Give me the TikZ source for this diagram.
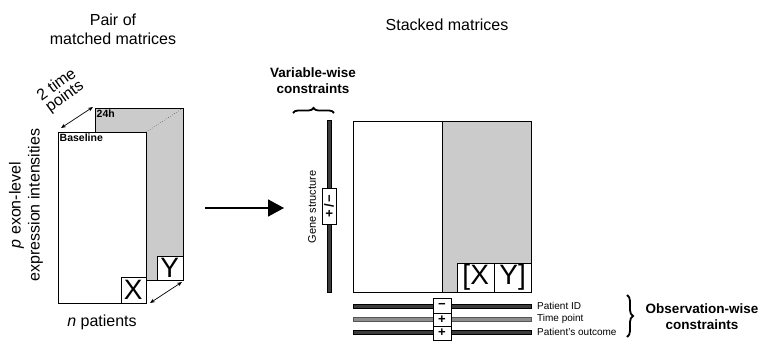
\documentclass[tikz,border=0pt]{standalone}
\usepackage{fontspec}
\setmainfont{Liberation Sans}
\usetikzlibrary{arrows.meta,decorations.pathreplacing}
\definecolor{matgray}{HTML}{CBCBCB}
\definecolor{bardark}{HTML}{3C3C3C}
\definecolor{barlight}{HTML}{8E8E8E}
\begin{document}
\begin{tikzpicture}[x=1pt,y=-1pt,
    big/.style={font=\fontsize{16}{19}\selectfont,align=center,inner sep=0pt},
    bold/.style={font=\fontsize{13.5}{16}\selectfont\bfseries,align=center,inner sep=0pt},
    tag/.style={font=\fontsize{10.5}{12}\selectfont\bfseries,inner sep=1.5pt},
    small/.style={font=\fontsize{10}{12}\selectfont,inner sep=0pt},
    letter/.style={draw,fill=white,font=\fontsize{28}{30}\selectfont,inner sep=0pt},
    sign/.style={draw,fill=white,font=\fontsize{13}{14}\selectfont\bfseries,inner sep=0pt,minimum width=18pt},
    bar/.style={draw=black,fill=bardark,line width=0.6pt},
    twoway/.style={{Stealth[length=5pt,width=4pt]}-{Stealth[length=5pt,width=4pt]},line width=0.7pt}]
                        % \useasboundingbox keeps the 764x343 frame
                        \useasboundingbox (0,0) rectangle (764,343);

                        % pair of matched matrices
                        \node [big] (pairtitle) at (113,29) {Pair of\\matched matrices};
                        \draw [fill=matgray] (95,108) rectangle (183,280);
                        \node [tag,anchor=north west] (late) at (95,108) {24h};
                        \draw [dotted] (146,132)--(183,108);
                        \draw [fill=white] (58,132) rectangle (146,303);
                        \node [tag,anchor=north west] (base) at (58,132) {Baseline};
                        \node [letter,anchor=south east,minimum width=25pt,minimum height=26pt] (xbox) at (146,303) {X};
                        \node [letter,anchor=south east,minimum width=26pt,minimum height=24pt] (ybox) at (183,280) {Y};
                        \coordinate (tpa) at (61,128);
                        \coordinate (tpb) at (93,107);
                        \coordinate (ppa) at (150,303);
                        \coordinate (ppb) at (182,282);
                        \draw [twoway] (tpa)--(tpb);
                        \draw [twoway] (ppa)--(ppb);
                        \node [big,rotate=36] (tlabel) at (56,84) {2 time};
                        \node [big,rotate=36] (tlabelb) at (65,97) {points};
                        \node [big] (nlabel) at (102,322) {\textit{n} patients};
                        \node [big,rotate=90] (plabel) at (26,205) {\textit{p} exon-level\\expression intensities};

                        % arrow between the two halves
                        \coordinate (arra) at (205,208);
                        \coordinate (arrb) at (284,208);
                        \draw [-{Triangle[length=16pt,width=17pt]},line width=1.6pt] (arra)--(arrb);

                        % stacked matrices
                        \node [big] (stacktitle) at (447,25) {Stacked matrices};
                        \draw [fill=white] (353,121) rectangle (442,292);
                        \draw [fill=matgray] (442,121) rectangle (531,292);
                        \node [letter,anchor=south west,minimum width=37pt,minimum height=29pt] (xcell) at (457,292) {[X};
                        \node [letter,anchor=south west,minimum width=37pt,minimum height=29pt] (ycell) at (494,292) {Y]};

                        % variable-wise constraints
                        \node [bold] (varlabel) at (313,81) {Variable-wise\\constraints};
                        \draw [decorate,decoration={brace,amplitude=5pt},line width=1.8pt] (293,113)--(334,113);
                        \draw [bar] (327,120) rectangle (331,292);
                        \node [sign,rotate=90,minimum width=36pt,minimum height=14pt] (gsign) at (329,206) {+\,/\,\textminus};
                        \node [small,rotate=90,font=\fontsize{11}{12}\selectfont] (gene) at (312,207) {Gene structure};

                        % observation-wise constraints
                        \draw [bar] (353,304) rectangle (531,308);
                        \draw [bar,draw=barlight!60!black,fill=barlight] (353,317) rectangle (531,321);
                        \draw [bar] (353,330) rectangle (531,334);
                        \node [sign,minimum height=15pt] (idsign) at (442,305.5) {\textminus};
                        \node [sign,minimum height=13pt] (tpsign) at (442,319.5) {+};
                        \node [sign,minimum height=14pt] (outsign) at (442,333) {+};
                        \node [small,anchor=west] (idlabel) at (537,306) {Patient ID};
                        \node [small,anchor=west] (tplabel) at (537,319) {Time point};
                        \node [small,anchor=west] (outlabel) at (537,332) {Patient's outcome};
                        \draw [decorate,decoration={brace,amplitude=6pt},line width=1.8pt] (627,295)--(627,337);
                        \node [bold] (obslabel) at (702,317) {Observation-wise\\constraints};
\end{tikzpicture}
\end{document}
